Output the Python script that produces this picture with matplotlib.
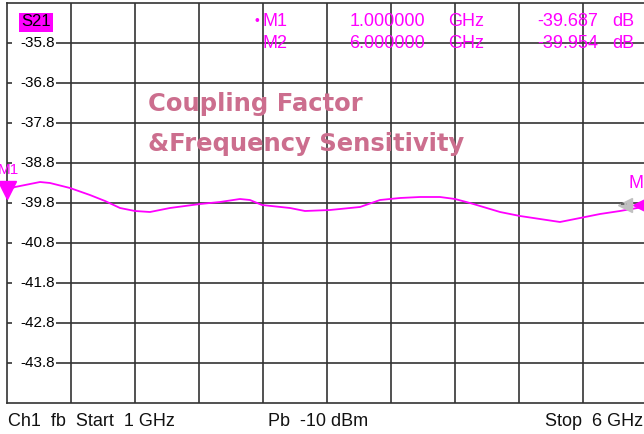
import matplotlib
matplotlib.use('Agg')
import matplotlib.pyplot as plt
import matplotlib.transforms as mtransforms
import numpy as np

plt.rcParams['font.family'] = ['Liberation Sans', 'DejaVu Sans']

# trace (GHz, dB)
freq = [1.000, 1.063, 1.258, 1.336, 1.492, 1.648, 1.766, 1.883, 2.000, 2.117,
        2.273, 2.508, 2.664, 2.820, 2.898, 2.992, 3.211, 3.328, 3.523, 3.758,
        3.914, 4.070, 4.227, 4.383, 4.500, 4.617, 4.852, 5.008, 5.164, 5.320,
        5.477, 5.633, 5.789, 5.969, 6.000]
s21 = [-39.475, -39.40, -39.275, -39.30, -39.425, -39.60, -39.75, -39.925, -40.00, -40.025,
       -39.925, -39.825, -39.775, -39.70, -39.725, -39.85, -39.925, -40.00, -39.975, -39.90,
       -39.725, -39.675, -39.65, -39.65, -39.70, -39.80, -40.025, -40.125, -40.20, -40.275,
       -40.175, -40.075, -40.00, -39.90, -39.89]

ytick_vals = [-35.8, -36.8, -37.8, -38.8, -39.8, -40.8, -41.8, -42.8, -43.8]
xgrid = [1.5, 2.0, 2.5, 3.0, 3.5, 4.0, 4.5, 5.0, 5.5]

markers = ['M1', 'M2']
marker_freq = ['1.000000', '6.000000']
marker_val = ['-39.687', '-39.954']

title_lines = ['Coupling Factor', '&Frequency Sensitivity']
footer = ['Ch1  fb  Start  1 GHz', 'Pb  -10 dBm', 'Stop  6 GHz']

W, H = 644, 434
mag = '#ff00ff'
gridc = '#333333'

fig = plt.figure(figsize=(W / 100, H / 100), dpi=100)
ax = fig.add_axes([7 / W, (H - 403) / H, 640 / W, 400 / H])
ax.set_xlim(1, 6)
ax.set_ylim(-44.8, -34.8)
ax.set_xticks([])
ax.set_yticks([])
for s in ['left', 'top', 'bottom']:
    ax.spines[s].set_color(gridc)
    ax.spines[s].set_linewidth(1.2)
ax.spines['right'].set_visible(False)

for xv in xgrid:
    ax.axvline(xv, color=gridc, lw=1.2, zorder=1)
for yv in ytick_vals:
    ax.axhline(yv, color=gridc, lw=1.2, zorder=1)
    ax.text(48 / 640, yv, '%.1f' % yv, transform=ax.get_yaxis_transform(),
            ha='right', va='center', fontsize=11, color='black', zorder=3,
            bbox=dict(fc='white', ec='none', pad=1.0))
# white strip so the line gap starts right after the short tick
for yv in ytick_vals:
    ax.text(6 / 640, yv, '     ', transform=ax.get_yaxis_transform(),
            ha='left', va='center', fontsize=11, zorder=2,
            bbox=dict(fc='white', ec='none', pad=1.0))

ax.plot(freq, s21, color=mag, lw=1.3, zorder=4)

# M1 marker
ax.plot(freq[0], s21[0], marker='v', ms=13, color=mag, clip_on=False, zorder=5)
off_lab = mtransforms.offset_copy(ax.transData, fig=fig, x=-9, y=13, units='dots')
ax.text(freq[0], s21[0], 'M1', color=mag, fontsize=11, ha='left',
        va='bottom', zorder=5, transform=off_lab)
# M2 marker with gray active-marker arrow
off = mtransforms.offset_copy(ax.transData, fig=fig, x=-6, y=0, units='dots')
ax.plot(6.0, -39.85, marker='<', ms=12, color=mag, clip_on=False, zorder=5,
        transform=off)
off2 = mtransforms.offset_copy(ax.transData, fig=fig, x=-22, y=0, units='dots')
ax.plot(6.0, -39.85, marker='<', ms=10, color='#c0c0c0', zorder=5, transform=off2)
ax.plot([5.80, 5.84], [-39.83, -39.83], color='#555555', lw=1.2, ls=(0, (2, 1.5)), zorder=5)
fig.text(643 / W, 1 - 183 / H, 'M', color=mag, fontsize=13, ha='right', va='center', zorder=5)

# S21 label
fig.text(21 / W, 1 - 22 / H, 'S21', fontsize=12, color='black', ha='left', va='center',
         bbox=dict(fc=mag, ec='none', pad=1.5))

# marker table
rows_y = [21, 43]
for i in range(len(markers)):
    y = 1 - rows_y[i] / H
    if i == 0:
        fig.text(254 / W, y, '\u2022', fontsize=10, color=mag, ha='left', va='center')
    fig.text(262 / W, y, markers[i], fontsize=13, color=mag, ha='left', va='center')
    fig.text(425 / W, y, marker_freq[i], fontsize=13, color=mag, ha='right', va='center')
    fig.text(448 / W, y, 'GHz', fontsize=13, color=mag, ha='left', va='center')
    fig.text(598 / W, y, marker_val[i], fontsize=13, color=mag, ha='right', va='center')
    fig.text(612 / W, y, 'dB', fontsize=13, color=mag, ha='left', va='center')

# title
fig.text(148 / W, 1 - 111 / H, title_lines[0], fontsize=17.5, fontweight='heavy',
         color='#cc6e8e', family='DejaVu Sans', ha='left', va='baseline')
fig.text(148 / W, 1 - 151 / H, title_lines[1], fontsize=17.5, fontweight='heavy',
         color='#cc6e8e', family='DejaVu Sans', ha='left', va='baseline')

# footer
fig.text(8 / W, 1 - 422 / H, footer[0], fontsize=13, color='#111111', ha='left', va='center')
fig.text(268 / W, 1 - 422 / H, footer[1], fontsize=13, color='#111111', ha='left', va='center')
fig.text(643 / W, 1 - 422 / H, footer[2], fontsize=13, color='#111111', ha='right', va='center')

fig.savefig('out.png', dpi=100)
